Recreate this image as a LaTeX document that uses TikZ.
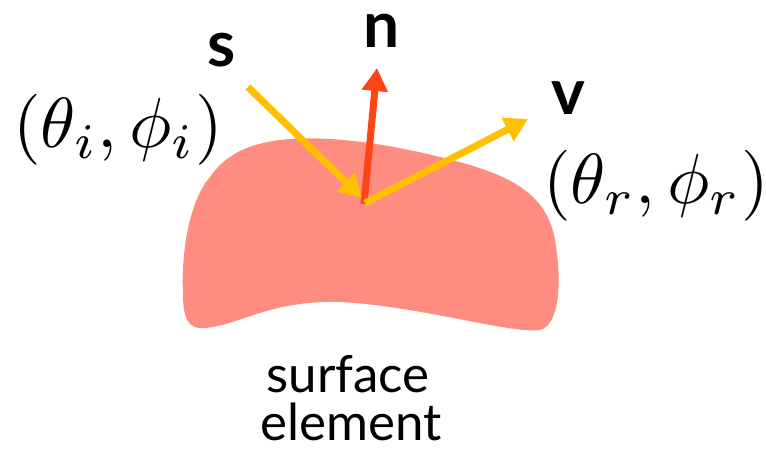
\documentclass[tikz,border=0pt]{standalone}
\usepackage{fontspec}
\setmainfont{Lato}
\usetikzlibrary{arrows.meta}
\definecolor{blobc}{HTML}{FF8C80}
\definecolor{arry}{HTML}{FFC000}
\definecolor{arrr}{HTML}{FF4515}
\tikzset{
  vec/.style={line width=7pt,-{Triangle[length=23pt,width=25pt]}},
  boldlbl/.style={font=\fontsize{64}{64}\selectfont\bfseries, inner sep=0pt},
  mathlbl/.style={scale=7.1, inner sep=0pt},
  txt/.style={font=\fontsize{51}{51}\selectfont, inner sep=0pt, align=center}
}
\begin{document}
\begin{tikzpicture}[x=1pt,y=-1pt]
\useasboundingbox (0,0) rectangle (766,448);
% surface blob
\fill[blobc] (183,293) .. controls (181,250) and (190,200) .. (210,177)
  .. controls (222,160) and (240,145) .. (280,140)
  .. controls (330,134) and (400,145) .. (470,165)
  .. controls (520,180) and (548,200) .. (555,240)
  .. controls (562,280) and (560,325) .. (540,330)
  .. controls (510,334) and (420,306) .. (340,302)
  .. controls (270,300) and (240,325) .. (205,328)
  .. controls (188,330) and (183,318) .. (183,293);
\coordinate (O) at (365,203);
\coordinate (S) at (248,87);
\coordinate (I) at (362,198);
\coordinate (N) at (377,68);
\coordinate (V) at (528,119);
\draw[vec,arrr] (364,204) -- (N);
\draw[vec,arry] (S) -- (I);
\draw[vec,arry] (O) -- (V);
\node[boldlbl] (sl) at (222,50) {s};
\node[boldlbl] (nl) at (382,31) {n};
\node[boldlbl] (vl) at (568,98) {v};
\node[mathlbl] (ti) at (118,130) {$(\theta_i,\phi_i)$};
\node[mathlbl] (tr) at (656,186) {$(\theta_r,\phi_r)$};
\node[txt, anchor=base] (se1) at (348,392) {surface};
\node[txt, anchor=base] (se2) at (351,440) {element};
\end{tikzpicture}
\end{document}
